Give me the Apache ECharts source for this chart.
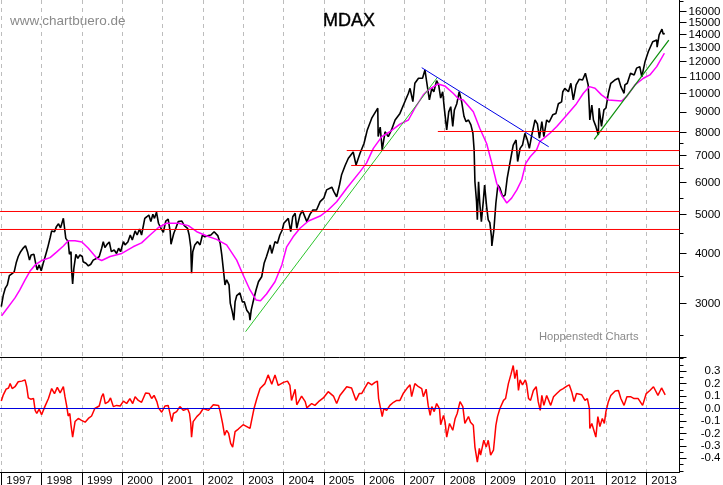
<!DOCTYPE html>
<html lang="de">
<head>
    <meta charset="UTF-8">
    <title>MDAX</title>
    <script src="https://cdn.jsdelivr.net/npm/echarts@6/dist/echarts.min.js"></script>
    <style>
        html, body { margin: 0; padding: 0; background: #fff; }
    </style>
</head>
<body>
    <div id="main" style="width: 723px; height: 485px;"></div>

    <script>
        const yearTicks = [1997,1998,1999,2000,2001,2002,2003,2004,2005,2006,2007,2008,2009,2010,2011,2012,2013];
        const priceTicks = [3000,4000,5000,6000,7000,8000,9000,10000,11000,12000,13000,14000,15000,16000];
        const priceMinorTicks = [2500,3500,4500,5500,6500,7500,17000];
        const momentumTicks = [-0.4,-0.3,-0.2,-0.1,0,0.1,0.2,0.3];
        const momentumMinorTicks = [-0.5,-0.45,-0.35,-0.25,-0.15,-0.05,0.05,0.15,0.25,0.35,0.4];

        // Kurs
        const priceYears = [
            1997.00,1997.05,1997.10,1997.15,1997.20,1997.26,1997.32,1997.37,1997.42,1997.48,
            1997.55,1997.60,1997.65,1997.70,1997.74,1997.77,1997.81,1997.86,1997.89,1997.94,
            1997.99,1998.04,1998.10,1998.15,1998.21,1998.25,1998.32,1998.37,1998.42,1998.47,
            1998.54,1998.57,1998.60,1998.66,1998.69,1998.73,1998.74,1998.77,1998.80,1998.85,
            1998.90,1998.95,1999.01,1999.03,1999.10,1999.16,1999.22,1999.28,1999.37,1999.43,
            1999.49,1999.53,1999.57,1999.63,1999.68,1999.73,1999.80,1999.86,1999.91,1999.96,
            2000.03,2000.07,2000.14,2000.20,2000.25,2000.32,2000.37,2000.43,2000.48,2000.56,
            2000.61,2000.66,2000.71,2000.76,2000.80,2000.85,2000.90,2000.96,2001.02,2001.08,
            2001.14,2001.19,2001.21,2001.28,2001.33,2001.39,2001.48,2001.54,2001.62,2001.66,
            2001.70,2001.72,2001.75,2001.80,2001.87,2001.93,2001.99,2002.05,2002.14,2002.20,
            2002.28,2002.37,2002.43,2002.47,2002.51,2002.55,2002.59,2002.65,2002.68,2002.73,
            2002.77,2002.80,2002.84,2002.92,2002.98,2003.03,2003.09,2003.15,2003.17,2003.20,
            2003.24,2003.32,2003.38,2003.46,2003.52,2003.58,2003.67,2003.71,2003.79,2003.85,
            2003.91,2003.97,2004.01,2004.12,2004.18,2004.23,2004.29,2004.33,2004.41,2004.47,
            2004.58,2004.66,2004.73,2004.82,2004.91,2005.00,2005.07,2005.20,2005.25,2005.32,
            2005.39,2005.44,2005.53,2005.61,2005.73,2005.80,2005.90,2006.00,2006.08,2006.19,
            2006.34,2006.35,2006.40,2006.45,2006.52,2006.60,2006.68,2006.77,2006.89,2006.99,
            2007.10,2007.14,2007.21,2007.26,2007.35,2007.45,2007.51,2007.55,2007.62,2007.68,
            2007.73,2007.80,2007.85,2007.90,2007.95,2007.99,2008.05,2008.10,2008.15,2008.20,
            2008.24,2008.30,2008.36,2008.42,2008.48,2008.53,2008.59,2008.65,2008.70,2008.73,
            2008.75,2008.79,2008.81,2008.84,2008.87,2008.91,2008.96,2008.99,2009.04,2009.08,
            2009.12,2009.16,2009.17,2009.22,2009.27,2009.32,2009.37,2009.44,2009.50,2009.55,
            2009.64,2009.70,2009.77,2009.81,2009.87,2009.93,2009.99,2010.05,2010.10,2010.16,
            2010.24,2010.30,2010.35,2010.41,2010.46,2010.53,2010.59,2010.68,2010.76,2010.82,
            2010.90,2010.93,2010.98,2011.07,2011.13,2011.19,2011.26,2011.34,2011.42,2011.49,
            2011.56,2011.59,2011.60,2011.65,2011.69,2011.75,2011.81,2011.83,2011.89,2011.95,
            2012.00,2012.06,2012.12,2012.22,2012.31,2012.37,2012.45,2012.47,2012.53,2012.61,
            2012.70,2012.76,2012.84,2012.89,2012.97,2013.05,2013.16,2013.26,2013.27,2013.32,
            2013.39,2013.42,2013.46
        ];
        const priceValues = [
            2950,3150,3280,3340,3520,3560,3600,3790,3930,4040,
            4130,4180,4040,3850,3965,3930,3980,3745,3640,3745,
            3620,3780,3965,4130,4370,4550,4530,4670,4740,4630,
            4890,4620,4360,4280,3980,4040,3680,3360,3670,3980,
            3890,3965,3930,3815,3780,3725,3760,3850,3890,3930,
            4120,4280,4135,4220,4270,4040,4080,4000,4120,4040,
            4280,4200,4270,4445,4320,4550,4445,4600,4445,4890,
            4935,4985,4800,5005,4890,5065,4755,4620,4515,4815,
            4870,4530,4215,4490,4620,4800,4815,4690,4620,4445,
            4155,3570,4040,4200,4280,4200,4445,4400,4430,4445,
            4530,4430,4240,3965,3640,3340,3440,3340,3010,2865,
            2730,3030,3140,3190,3030,3030,2890,2835,2730,2890,
            3010,3245,3400,3500,3780,3930,4200,4000,4280,4240,
            4445,4575,4755,4890,4530,4935,5035,4620,4985,5110,
            4800,5010,5130,5130,5380,5490,5755,5845,5700,5530,
            5920,6265,6620,6900,7150,6640,7100,7520,8115,8680,
            9190,7810,8250,7240,8030,7810,8115,8590,8920,9430,
            10010,10300,9540,10600,10910,10910,11440,10740,9635,10300,
            10100,10760,10500,9740,10100,9190,8115,9000,9270,8280,
            9100,9430,10100,9540,8760,8510,8590,8350,7960,7240,
            6030,5380,4850,6030,5340,4800,5430,5920,5230,4845,
            4770,4400,4175,4575,5340,5920,5820,5530,5590,6150,
            6900,7440,7660,6770,7300,7440,7960,7660,7300,7880,
            8590,8400,7740,8510,7810,8590,8480,8850,8920,9430,
            9530,10100,10300,10100,10600,9635,10500,10850,10800,11230,
            10500,9100,8590,9360,8590,8280,7880,9190,8280,9100,
            9200,10010,10600,10800,10910,10400,10010,10500,10600,11230,
            11120,11560,11660,11000,12000,12700,13450,13580,13040,13990,
            14450,14060,14100
        ];

        // gleitender Durchschnitt
        const avgYears = [
            1997.01,1997.34,1997.46,1997.59,1997.71,1997.84,1998.00,1998.21,1998.37,1998.54,
            1998.66,1998.83,1999.00,1999.16,1999.37,1999.49,1999.70,1999.99,2000.27,2000.48,
            2000.69,2000.90,2001.10,2001.39,2001.64,2001.85,2002.10,2002.34,2002.59,2002.84,
            2003.00,2003.17,2003.32,2003.43,2003.58,2003.79,2003.96,2004.08,2004.24,2004.41,
            2004.62,2004.91,2005.11,2005.32,2005.57,2005.90,2006.06,2006.23,2006.44,2006.64,
            2006.89,2007.10,2007.26,2007.47,2007.59,2007.84,2008.00,2008.21,2008.34,2008.46,
            2008.71,2008.87,2009.04,2009.17,2009.29,2009.41,2009.54,2009.66,2009.79,2009.91,
            2010.01,2010.12,2010.28,2010.36,2010.61,2010.78,2011.03,2011.27,2011.44,2011.59,
            2011.73,2011.89,2012.06,2012.39,2012.51,2012.72,2012.93,2013.09,2013.26,2013.45
        ];
        const avgValues = [
            2800,3100,3245,3436,3610,3745,3840,3905,4030,4175,
            4300,4300,4270,4120,3890,3840,3930,4000,4155,4250,
            4445,4640,4755,4755,4690,4530,4420,4335,4200,3850,
            3535,3245,3065,3050,3170,3400,3745,4155,4400,4620,
            4815,4955,5130,5380,5810,6390,6710,7300,7810,8030,
            8390,8590,9190,9920,10200,10560,10440,10010,9700,9635,
            9000,8190,7510,6700,5980,5590,5340,5490,5755,6090,
            6700,6960,7240,7590,7960,8280,8840,9430,10010,10400,
            10300,9920,9635,9580,9820,10500,10910,11120,11660,12590
        ];

        // Indikator unten
        const momentumYears = [
            1997.00,1997.05,1997.12,1997.18,1997.22,1997.27,1997.34,1997.42,1997.51,1997.59,
            1997.63,1997.67,1997.73,1997.80,1997.84,1997.88,1997.94,1998.00,1998.08,1998.17,
            1998.25,1998.32,1998.39,1998.46,1998.54,1998.58,1998.62,1998.66,1998.70,1998.73,
            1998.77,1998.83,1998.91,1998.99,1999.08,1999.16,1999.24,1999.32,1999.43,1999.49,
            1999.53,1999.58,1999.66,1999.71,1999.78,1999.86,1999.95,2000.03,2000.11,2000.19,
            2000.26,2000.32,2000.40,2000.48,2000.58,2000.67,2000.73,2000.79,2000.86,2000.90,
            2000.98,2001.06,2001.14,2001.23,2001.27,2001.35,2001.43,2001.52,2001.62,2001.67,
            2001.70,2001.72,2001.76,2001.85,2001.93,2002.01,2002.14,2002.26,2002.39,2002.43,
            2002.49,2002.54,2002.59,2002.64,2002.69,2002.74,2002.80,2002.88,2003.00,2003.09,
            2003.17,2003.21,2003.27,2003.34,2003.42,2003.54,2003.62,2003.71,2003.79,2003.87,
            2004.00,2004.10,2004.16,2004.20,2004.29,2004.33,2004.45,2004.54,2004.58,2004.70,
            2004.78,2004.87,2004.99,2005.11,2005.24,2005.32,2005.40,2005.57,2005.69,2005.80,
            2005.88,2005.94,2006.02,2006.10,2006.19,2006.27,2006.33,2006.36,2006.40,2006.45,
            2006.49,2006.56,2006.64,2006.73,2006.81,2006.89,2006.97,2007.06,2007.14,2007.18,
            2007.26,2007.35,2007.43,2007.47,2007.54,2007.59,2007.64,2007.68,2007.74,2007.80,
            2007.87,2007.90,2007.97,2008.01,2008.05,2008.12,2008.20,2008.26,2008.31,2008.38,
            2008.45,2008.50,2008.59,2008.64,2008.71,2008.75,2008.81,2008.86,2008.89,2008.97,
            2009.03,2009.08,2009.14,2009.21,2009.27,2009.31,2009.37,2009.46,2009.51,2009.58,
            2009.64,2009.70,2009.74,2009.79,2009.83,2009.87,2009.93,2010.00,2010.03,2010.08,
            2010.13,2010.20,2010.27,2010.32,2010.37,2010.41,2010.46,2010.53,2010.63,2010.70,
            2010.78,2010.86,2010.94,2011.03,2011.09,2011.15,2011.21,2011.27,2011.40,2011.48,
            2011.54,2011.59,2011.60,2011.65,2011.70,2011.75,2011.80,2011.85,2011.91,2011.96,
            2012.00,2012.06,2012.12,2012.23,2012.31,2012.37,2012.45,2012.52,2012.61,2012.70,
            2012.80,2012.91,2013.00,2013.09,2013.18,2013.29,2013.38,2013.47
        ];
        const momentumValues = [
            0.06,0.11,0.155,0.165,0.20,0.16,0.175,0.215,0.22,0.23,
            0.175,0.085,0.075,0.08,-0.015,-0.04,-0.005,-0.05,0.015,0.08,
            0.16,0.12,0.17,0.125,0.175,0.095,0.025,-0.06,-0.04,-0.135,
            -0.23,-0.105,-0.08,-0.095,-0.11,-0.08,-0.06,0,0.02,0.095,
            0.12,0.04,0.055,0.085,0.015,0.025,0.02,0.06,0.04,0.08,
            0.04,0.095,0.065,0.05,0.125,0.12,0.08,0.105,0.055,0.005,
            -0.03,0.02,0.025,-0.105,-0.04,-0.025,0.015,-0.015,0,-0.04,
            -0.12,-0.23,-0.105,-0.065,-0.04,0,-0.015,0.03,0.025,-0.025,
            -0.12,-0.215,-0.175,-0.20,-0.28,-0.31,-0.185,-0.165,-0.13,-0.145,
            -0.16,-0.095,0,0.08,0.16,0.20,0.27,0.195,0.27,0.185,
            0.21,0.22,0.185,0.065,0.155,0.03,0.10,0.055,0.005,0.04,
            0.025,0.055,0.085,0.135,0.10,0.04,0.105,0.175,0.165,0.065,
            0.12,0.12,0.165,0.21,0.19,0.21,0.22,0.08,0.015,-0.065,
            0,-0.015,0.025,0.05,0.065,0.065,0.12,0.16,0.19,0.095,
            0.20,0.175,0.16,0.095,0.155,0.025,-0.055,0.015,-0.025,0.04,
            0,-0.13,-0.055,-0.11,-0.23,-0.12,-0.175,-0.08,-0.04,0.055,
            0.015,-0.12,-0.065,-0.11,-0.135,-0.31,-0.43,-0.32,-0.375,-0.255,
            -0.31,-0.255,-0.375,-0.335,-0.135,-0.065,0,0.065,0.08,0.20,
            0.27,0.345,0.24,0.31,0.145,0.23,0.19,0.23,0.20,0.08,
            0.065,0.145,0.175,0.055,-0.015,0.105,0.025,0.105,0.025,0.095,
            0.12,0.145,0.16,0.18,0.19,0.135,0.055,0.12,0.11,0.065,
            0.08,0,-0.16,-0.12,-0.175,-0.23,-0.065,-0.145,-0.08,-0.12,
            -0.025,0.055,0.105,0.14,0.145,0.08,0.025,0.095,0.095,0.08,
            0.08,0.025,0.12,0.145,0.175,0.105,0.165,0.11
        ];

        // Trendlinien und Marken: [von, bis] in Jahren und Punkten
        const greenUpYears = [2003.06, 2007.82];
        const greenUpValues = [2555, 10970];
        const greenLateYears = [2011.71, 2013.56];
        const greenLateValues = [7690, 13580];
        const blueDownYears = [2007.43, 2010.58];
        const blueDownValues = [11590, 7370];
        const levels = [5086, 4588, 3585, 7211, 6620, 8042];
        const levelStarts = [1996.97, 1996.97, 1996.97, 2005.57, 2005.68, 2007.83];

        const xMin = 1996.968, xMax = 2013.825;
        const priceMin = 2210, priceMax = 17080;

        function zip(xs, ys) {
            return xs.map((x, i) => [x, ys[i]]);
        }

        function lineSeries(name, axis, data, color, width, z) {
            return {
                name: name,
                type: 'line',
                xAxisIndex: axis,
                yAxisIndex: axis === 0 ? 0 : 2,
                data: data,
                symbol: 'none',
                silent: true,
                z: z,
                lineStyle: { color: color, width: width }
            };
        }

        const series = [
            lineSeries('Kurs', 0, zip(priceYears, priceValues), '#000', 1.6, 3),
            lineSeries('GD', 0, zip(avgYears, avgValues), '#ff00ff', 1.5, 4),
            lineSeries('Trend 1', 0, zip(greenUpYears, greenUpValues), '#2cc52c', 1, 5),
            lineSeries('Trend 2', 0, zip(greenLateYears, greenLateValues), '#0b8f0b', 1.2, 5),
            lineSeries('Trend 3', 0, zip(blueDownYears, blueDownValues), '#0000e6', 1, 5),
            lineSeries('Indikator', 1, zip(momentumYears, momentumValues), '#ff0000', 1.5, 3),
            lineSeries('Null', 1, [[xMin, 0], [xMax, 0]], '#0000e0', 1, 4)
        ];
        levels.forEach((lvl, i) => {
            series.push(lineSeries('Marke ' + lvl, 0, [[levelStarts[i], lvl], [xMax, lvl]], '#ff0000', 1, 6));
        });

        const axisPen = { color: '#000', width: 1 };
        const labelFont = { fontFamily: 'Liberation Sans', fontSize: 11.5, color: '#000' };
        const noteStyle = { fontFamily: 'Liberation Sans', fontWeight: 'normal', color: '#8a8a8a' };
        const rightLabel = { margin: 41, align: 'right', lineHeight: 7, padding: [4, 0, 0, 0], hideOverlap: false, showMaxLabel: true, showMinLabel: true };

        let chart = echarts.init(document.getElementById('main'));
        chart.setOption({
            animation: false,
            backgroundColor: '#fff',
            title: [
                { text: 'MDAX', left: 323, top: 12, padding: 0, textStyle: { fontFamily: 'Liberation Sans', fontSize: 18, fontWeight: 'normal', color: '#000', textBorderColor: '#000', textBorderWidth: 0.4 } },
                { text: 'www.chartbuero.de', left: 10, top: 14, padding: 0, textStyle: Object.assign({ fontSize: 13.5 }, noteStyle) },
                { text: 'Hoppenstedt Charts', left: 539, top: 331, padding: 0, textStyle: Object.assign({ fontSize: 11.2 }, noteStyle) }
            ],
            // outerBoundsMode aus, sonst schrumpft v6 die Panels wegen der Achsenbeschriftung
            grid: [
                { left: 0, right: 43.5, top: 0, height: 357, outerBoundsMode: 'none' },
                { left: 0, right: 43.5, top: 357, height: 115, outerBoundsMode: 'none' }
            ],
            xAxis: [
                {
                    type: 'value', gridIndex: 0, min: xMin, max: xMax,
                    axisLine: { show: true, onZero: false, lineStyle: axisPen },
                    axisTick: { show: false, customValues: yearTicks },
                    axisLabel: { show: false, customValues: yearTicks },
                    splitLine: { show: true, lineStyle: { color: '#bdbdbd', type: [4, 4], width: 1 } }
                },
                {
                    type: 'value', gridIndex: 1, min: xMin, max: xMax,
                    axisLine: { show: true, onZero: false, lineStyle: axisPen },
                    axisTick: { show: true, length: 13, inside: false, lineStyle: axisPen, customValues: yearTicks },
                    axisLabel: Object.assign({}, labelFont, {
                        customValues: yearTicks, margin: 3, align: 'left', padding: [0, 0, 0, 5],
                        hideOverlap: false, formatter: v => String(v)
                    }),
                    splitLine: { show: true, lineStyle: { color: '#bdbdbd', type: [4, 4], width: 1 } }
                }
            ],
            yAxis: [
                {
                    type: 'log', gridIndex: 0, position: 'right', min: priceMin, max: priceMax,
                    axisLine: { show: true, onZero: false, lineStyle: axisPen },
                    axisTick: { show: true, length: 7, lineStyle: axisPen, customValues: priceTicks.concat([priceMin]) },
                    // 16000 haengt am zweiten Axis, sonst wirft der Overlap-Check 15000 raus
                    axisLabel: Object.assign({}, labelFont, rightLabel, {
                        customValues: priceTicks.filter(v => v < 16000), formatter: v => String(v)
                    }),
                    splitLine: { show: false }
                },
                {
                    type: 'log', gridIndex: 0, position: 'right', min: priceMin, max: priceMax,
                    axisLine: { show: false },
                    axisTick: { show: true, length: 4, lineStyle: axisPen, customValues: priceMinorTicks },
                    axisLabel: Object.assign({}, labelFont, rightLabel, {
                        customValues: priceTicks.filter(v => v >= 16000), formatter: v => String(v)
                    }),
                    splitLine: { show: false }
                },
                {
                    type: 'value', gridIndex: 1, position: 'right', min: -0.51, max: 0.4137,
                    axisLine: { show: true, onZero: false, lineStyle: axisPen },
                    axisTick: { show: true, length: 7, lineStyle: axisPen, customValues: momentumTicks },
                    axisLabel: Object.assign({}, labelFont, rightLabel, {
                        customValues: momentumTicks, formatter: v => v.toFixed(1)
                    }),
                    splitLine: { show: false }
                },
                {
                    type: 'value', gridIndex: 1, position: 'right', min: -0.51, max: 0.4137,
                    axisLine: { show: false },
                    axisTick: { show: true, length: 4, lineStyle: axisPen, customValues: momentumMinorTicks },
                    axisLabel: { show: false },
                    splitLine: { show: false }
                }
            ],
            series: series
        });
    </script>
</body>
</html>
